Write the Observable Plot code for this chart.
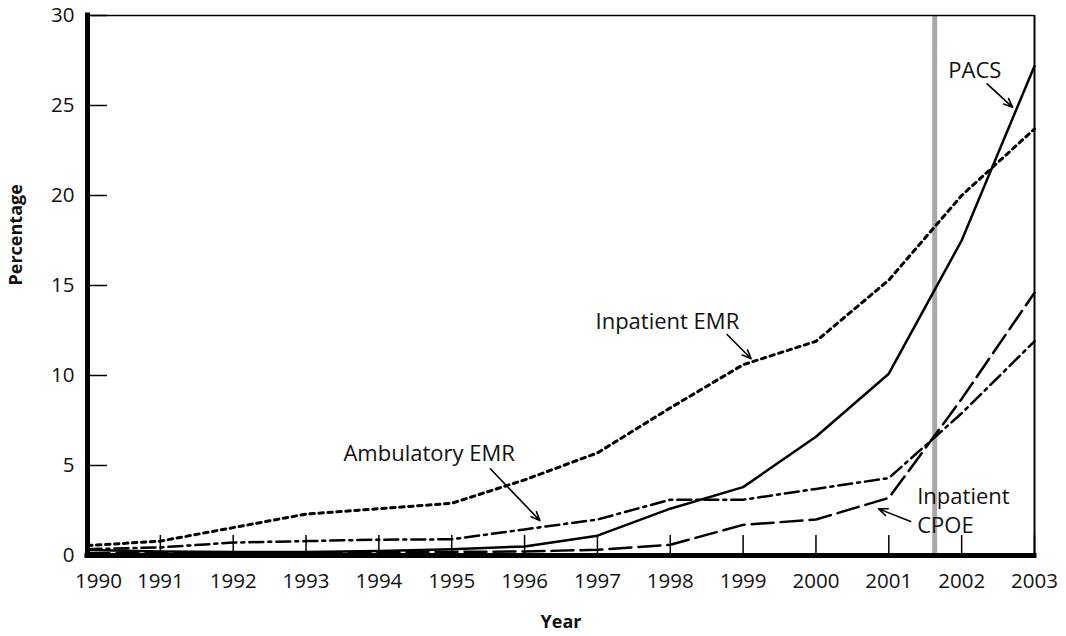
<!DOCTYPE html>
<html>
<head>
<meta charset="utf-8">
<script src="https://cdn.jsdelivr.net/npm/d3@7"></script>
<script src="https://cdn.jsdelivr.net/npm/@observablehq/plot@0.6"></script>
<style>
  html, body { margin: 0; padding: 0; background: #fff; }
</style>
</head>
<body>
<div id="chart"></div>
<script>
// ---- data ----
const years = [1990, 1991, 1992, 1993, 1994, 1995, 1996, 1997, 1998, 1999, 2000, 2001, 2002, 2003];
const pacs         = [0.3, 0.22, 0.2, 0.2, 0.25, 0.35, 0.5, 1.1, 2.6, 3.8, 6.6, 10.1, 17.5, 27.2];
const inpatientEMR = [0.55, 0.8, 1.55, 2.3, 2.6, 2.9, 4.2, 5.7, 8.2, 10.6, 11.9, 15.3, 20.0, 23.7];
const ambulatoryEMR= [0.35, 0.45, 0.72, 0.8, 0.88, 0.9, 1.45, 2.0, 3.1, 3.1, 3.7, 4.3, 7.9, 11.9];
const inpatientCPOE= [0.12, 0.12, 0.12, 0.15, 0.18, 0.2, 0.22, 0.32, 0.6, 1.7, 2.0, 3.2, 8.7, 14.6];

const yTicks = [0, 5, 10, 15, 20, 25, 30];
const markerYear = [2001.63];

const labelText = ["PACS", "Inpatient EMR", "Ambulatory EMR", "Inpatient\nCPOE"];
const labelX    = [2002.18, 1997.96, 1994.69, 2001.39];
const labelY    = [26.9, 12.96, 5.65, 2.55];
const labelAnchor = ["middle", "middle", "middle", "start"];

const arrowX1 = [2002.35, 1998.78, 1995.53, 2001.30];
const arrowY1 = [26.2, 12.28, 4.82, 1.89];
const arrowX2 = [2002.70, 1999.11, 1996.21, 2000.86];
const arrowY2 = [24.9, 10.93, 1.94, 2.59];

// ---- tables built from arrays ----
const table = years.map((year, i) => ({
  year, pacs: pacs[i], inpatientEMR: inpatientEMR[i],
  ambulatoryEMR: ambulatoryEMR[i], inpatientCPOE: inpatientCPOE[i]
}));
const labels = labelText.map((t, i) => ({t, x: labelX[i], y: labelY[i], a: labelAnchor[i]}));
const arrows = arrowX1.map((_, i) => ({x1: arrowX1[i], y1: arrowY1[i], x2: arrowX2[i], y2: arrowY2[i]}));

const font = "'Open Sans', 'Noto Sans', sans-serif";

const chart = Plot.plot({
  width: 1066,
  height: 636,
  marginLeft: 87,
  marginRight: 32,
  marginTop: 15,
  marginBottom: 81,
  style: {fontFamily: font, fontSize: "20px", background: "#fff", color: "#000", overflow: "visible"},
  x: {domain: [1990, 2003], axis: null},
  y: {domain: [0, 30], axis: null},
  marks: [
    // gray vertical marker
    Plot.ruleX(markerYear, {x: d => d, stroke: "#a9a9a9", strokeWidth: 5}),
    // frame top & right
    Plot.ruleY([30], {y: d => d, stroke: "#000", strokeWidth: 1.5}),
    Plot.ruleX([2003], {x: d => d, stroke: "#000", strokeWidth: 2}),
    // inward ticks
    Plot.ruleX(years, {x: d => d, y1: () => 0, y2: () => 0, insetTop: -20, stroke: "#000", strokeWidth: 1.5}),
    Plot.ruleY(yTicks, {y: d => d, x1: () => 1990, x2: () => 1990, insetRight: -20, stroke: "#000", strokeWidth: 1.5}),
    // series
    Plot.line(table, {x: "year", y: "inpatientEMR", stroke: "#000", strokeWidth: 3, strokeDasharray: "4.5,4.5"}),
    Plot.line(table, {x: "year", y: "ambulatoryEMR", stroke: "#000", strokeWidth: 2.5, strokeDasharray: "14,5,3,5"}),
    Plot.line(table, {x: "year", y: "inpatientCPOE", stroke: "#000", strokeWidth: 2.5, strokeDasharray: "22,7"}),
    Plot.line(table, {x: "year", y: "pacs", stroke: "#000", strokeWidth: 2.5}),
    // thick axes
    Plot.ruleX([1990], {x: d => d, stroke: "#000", strokeWidth: 5, strokeLinecap: "square"}),
    Plot.ruleY([0], {y: d => d, stroke: "#000", strokeWidth: 5, strokeLinecap: "square"}),
    // tick labels
    Plot.text(years.slice(1), {x: d => d, y: () => 0, dy: 26, text: d => String(d), fontSize: 20.5, fill: "#111"}),
    Plot.text(years.slice(0, 1), {x: d => d, y: () => 0, dy: 26, dx: 11, text: d => String(d), fontSize: 20.5, fill: "#111"}),
    Plot.text(yTicks, {x: () => 1990, y: d => d, dx: -13, textAnchor: "end", text: d => String(d), fontSize: 20.5, fill: "#111"}),
    // axis titles
    Plot.text(["Year"], {frameAnchor: "bottom", dy: 72, text: d => d, fontWeight: "bold", fontSize: 18, fill: "#111"}),
    Plot.text(["Percentage"], {frameAnchor: "left", dx: -71, rotate: -90, text: d => d, fontWeight: "bold", fontSize: 18, fill: "#111"}),
    // annotations
    Plot.text(labels.filter(d => d.a === "middle"), {x: "x", y: "y", text: "t", fontSize: 22, fill: "#111"}),
    Plot.text(labels.filter(d => d.a === "start"), {x: "x", y: "y", text: "t", textAnchor: "start", lineHeight: 1.3, fontSize: 22, fill: "#111"}),
    Plot.arrow(arrows, {x1: "x1", y1: "y1", x2: "x2", y2: "y2", stroke: "#000", strokeWidth: 1.6, headLength: 9, headAngle: 45})
  ]
});
document.getElementById("chart").appendChild(chart);
</script>
</body>
</html>
